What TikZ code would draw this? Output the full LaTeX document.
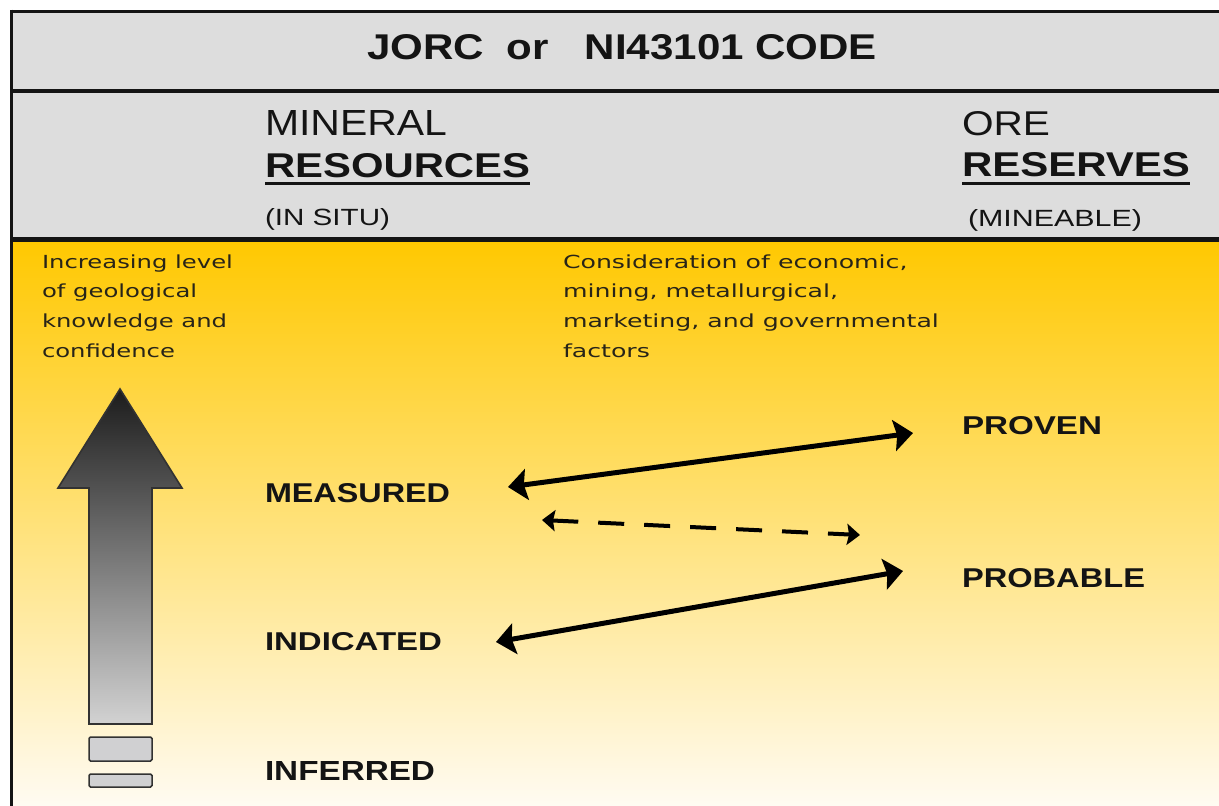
\documentclass[tikz,border=0pt]{standalone}
\usepackage{fontspec}
\setmainfont{Liberation Sans}
\newfontfamily\dejavu{DejaVu Sans}
\usepackage{graphicx}
\usetikzlibrary{arrows.meta}
\definecolor{hdrgray}{RGB}{221,221,221}
\definecolor{yelA}{RGB}{255,200,0}
\definecolor{yelB}{RGB}{255,224,112}
\definecolor{yelC}{RGB}{255,251,242}
\definecolor{ink}{RGB}{20,20,20}
\definecolor{paraink}{RGB}{40,36,24}
\definecolor{arrTop}{RGB}{28,28,28}
\definecolor{arrMid}{RGB}{120,120,120}
\definecolor{arrBot}{RGB}{210,210,210}
\definecolor{boxfill}{RGB}{208,208,210}
\definecolor{edge}{RGB}{50,50,50}
\newcommand{\fitbox}[3]{\resizebox{#1pt}{#2pt}{#3}}
\begin{document}
\begin{tikzpicture}[x=1pt,y=-1pt,
  lbl/.style={anchor=base west, inner sep=0pt, outer sep=0pt, text=ink},
  paratext/.style={anchor=base west, inner sep=0pt, outer sep=0pt, text=paraink,
    font=\dejavu\fontsize{18}{29.7}\selectfont},
  dblarrow/.style={line width=5pt, draw=black, {Stealth[length=19pt,width=31pt,inset=3pt]}-{Stealth[length=19pt,width=31pt,inset=3pt]}},
  dasharrow/.style={line width=4pt, draw=black, dash pattern=on 26pt off 20pt, {Stealth[length=13pt,width=21pt,inset=2pt]}-{Stealth[length=13pt,width=21pt,inset=2pt]}},
  steprect/.style={fill=boxfill, draw=edge, line width=1.5pt, rounded corners=1.5pt}]
\useasboundingbox (0,0) rectangle (1219,806);
\fill[white] (0,0) rectangle (1219,806);
% header background
\fill[hdrgray] (11,11) rectangle (1219,239);
% yellow gradient body
\shade[top color=yelA, middle color=yelB, bottom color=yelC] (11,239) rectangle (1219,806);
% rules
\draw[line width=3pt, draw=ink] (11,11) -- (1219,11);
\draw[line width=4pt, draw=ink] (11,91) -- (1219,91);
\draw[line width=5pt, draw=ink] (11,239) -- (1219,239);
\draw[line width=3pt, draw=ink] (11,9.5) -- (11,806);

% title
\node[lbl] (title) at (367,59) {\fitbox{510}{25}{\bfseries JORC\hspace{0.55em}or\hspace{0.85em}NI43101 CODE}};

% column headers
\node[lbl] (mineral) at (265,135) {\fitbox{182}{25}{MINERAL}};
\node[lbl] (resources) at (265,177) {\fitbox{265}{24}{\bfseries RESOURCES}};
\node[lbl] (insitu) at (265,225) {\fitbox{125}{17}{(IN SITU)}};
\draw[line width=3pt, draw=ink] ([yshift=-6pt]resources.base west) -- ([yshift=-6pt]resources.base east);

\node[lbl] (ore) at (962,135) {\fitbox{88}{24}{ORE}};
\node[lbl] (reserves) at (962,176) {\fitbox{228}{24}{\bfseries RESERVES}};
\node[lbl] (mineable) at (968,226) {\fitbox{174}{17}{(MINEABLE)}};
\draw[line width=3pt, draw=ink] ([yshift=-7pt]reserves.base west) -- ([yshift=-7pt]reserves.base east);

% paragraphs
\node[paratext] (know) at (42,268) {\scalebox{1.35}[1]{\begin{tabular}[t]{@{}l@{}}Increasing level\\ of geological\\ knowledge and\\ confidence\end{tabular}}};
\node[paratext] (consid) at (563,268) {\scalebox{1.40}[1]{\begin{tabular}[t]{@{}l@{}}Consideration of economic,\\ mining, metallurgical,\\ marketing, and governmental\\ factors\end{tabular}}};

% category labels
\node[lbl] (measured) at (265,502) {\fitbox{185}{19}{\bfseries MEASURED}};
\node[lbl] (indicated) at (265,650) {\fitbox{177}{18}{\bfseries INDICATED}};
\node[lbl] (inferred) at (265,780) {\fitbox{170}{19}{\bfseries INFERRED}};
\node[lbl] (proven) at (962,434) {\fitbox{140}{18}{\bfseries PROVEN}};
\node[lbl] (probable) at (962,587) {\fitbox{183}{19}{\bfseries PROBABLE}};

% big confidence arrow
\shade[top color=arrTop, middle color=arrMid, bottom color=arrBot]
  (120,389) -- (182,488) -- (152,488) -- (152,724) -- (89,724) -- (89,488) -- (58,488) -- cycle;
\draw[edge, line width=1.6pt, line join=miter]
  (120,389) -- (182,488) -- (152,488) -- (152,724) -- (89,724) -- (89,488) -- (58,488) -- cycle;
\draw[steprect] (89,737) rectangle (152,761);
\draw[steprect] (89,774) rectangle (152,787);

% connector end points
\coordinate (mL) at (508,487);
\coordinate (pR) at (913,433);
\coordinate (dL) at (542,520);
\coordinate (dR) at (860,535);
\coordinate (iL) at (496,642);
\coordinate (bR) at (903,571);

\draw[dblarrow] (mL) -- (pR);
\draw[dasharrow] (dL) -- (dR);
\draw[dblarrow] (iL) -- (bR);
\end{tikzpicture}
\end{document}
